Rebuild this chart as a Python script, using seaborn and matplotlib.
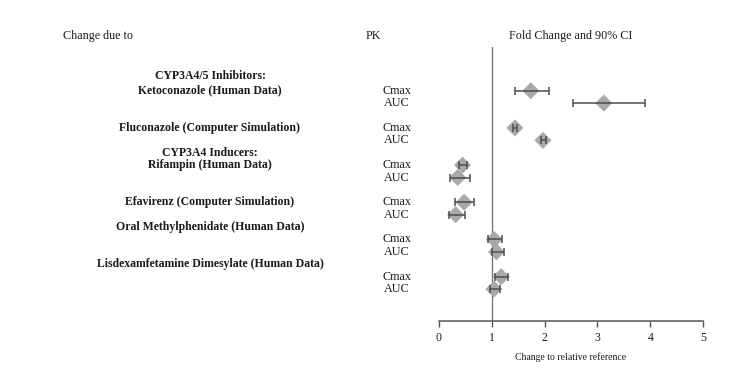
import matplotlib
matplotlib.use("Agg")
import matplotlib.pyplot as plt
import matplotlib.transforms as mtransforms
import seaborn as sns
import pandas as pd
import numpy as np

# ---- data ----
drugs = ["Ketoconazole (Human Data)", "Fluconazole (Computer Simulation)",
         "Rifampin (Human Data)", "Efavirenz (Computer Simulation)",
         "Oral Methylphenidate (Human Data)", "Lisdexamfetamine Dimesylate (Human Data)"]
pk_params = ["Cmax", "AUC"]
fold_cmax = [1.74, 1.44, 0.45, 0.48, 1.05, 1.18]
lo_cmax = [1.44, 1.40, 0.38, 0.31, 0.94, 1.06]
hi_cmax = [2.09, 1.48, 0.535, 0.67, 1.19, 1.315]
fold_auc = [3.12, 1.97, 0.36, 0.32, 1.09, 1.045]
lo_auc = [2.53, 1.93, 0.22, 0.195, 1.00, 0.96]
hi_auc = [3.89, 2.02, 0.585, 0.50, 1.23, 1.16]
headers = ["CYP3A4/5 Inhibitors:", "CYP3A4 Inducers:"]
x_ticks = [0, 1, 2, 3, 4, 5]

rows = []
for i, d in enumerate(drugs):
    rows.append(dict(drug=d, pk="Cmax", fold=fold_cmax[i], lo=lo_cmax[i], hi=hi_cmax[i], pos=3 * i))
    rows.append(dict(drug=d, pk="AUC", fold=fold_auc[i], lo=lo_auc[i], hi=hi_auc[i], pos=3 * i + 1))
df = pd.DataFrame(rows)

sns.set_theme(style="white")
plt.rcParams["font.family"] = ["Liberation Serif", "DejaVu Serif"]

txt = "#1a1a1a"
fig = plt.figure(figsize=(7.55, 3.71), dpi=100)
ax = fig.add_axes([438.7 / 755, (371 - 320.7) / 371, 264.6 / 755, (320.7 - 46.7) / 371])

ax.axvline(1, color="#7a7a7a", lw=1.0, zorder=1)
sns.scatterplot(data=df, x="fold", y="pos", marker="D", s=75, color="#a9a9a9",
                edgecolor="none", ax=ax, zorder=2, legend=False)
ax.errorbar(df["fold"], df["pos"], xerr=[df["fold"] - df["lo"], df["hi"] - df["fold"]],
            fmt="none", ecolor="#4d4d4d", elinewidth=1.1, capsize=3.2, capthick=1.1, zorder=3)

ax.set_xlim(0, 5)
ax.set_ylim(18.55, -3.55)
ax.set_yticks([])
ax.set_xticks(x_ticks)
ax.set_xticklabels([str(t) for t in x_ticks], fontsize=8.5, color=txt)
ax.tick_params(axis="x", direction="out", length=4, width=1, color="#555555", bottom=True, pad=4)
for s in ["top", "right", "left"]:
    ax.spines[s].set_visible(False)
ax.spines["bottom"].set_color("#555555")
ax.spines["bottom"].set_linewidth(1.1)
ax.set_xlabel("Change to relative reference", fontsize=7, color=txt, labelpad=6)
ax.set_ylabel("")

# left-side labels
tr = mtransforms.blended_transform_factory(fig.transFigure, ax.transData)
lab_x = 210 / 755
pk_x = 397 / 755
for i, r in df.iterrows():
    ax.text(pk_x, r["pos"], r["pk"], transform=tr, ha="center", va="center",
            fontsize=8.7, color=txt, clip_on=False)

drug_pos = [0, 3, 6, 9, 11, 14]
for d, p in zip(drugs, drug_pos):
    ax.text(lab_x, p, d, transform=tr, ha="center", va="center", fontsize=8.5,
            fontweight="bold", color=txt, clip_on=False)
for h, p in zip(headers, [-1.18, 5.0]):
    ax.text(lab_x, p, h, transform=tr, ha="center", va="center", fontsize=8.5,
            fontweight="bold", color=txt, clip_on=False)

ty = (371 - 36) / 371
fig.text(63 / 755, ty, "Change due to", ha="left", va="center", fontsize=8.7, color=txt)
fig.text(373 / 755, ty, "PK", ha="center", va="center", fontsize=8.7, color=txt)
fig.text(571 / 755, ty, "Fold Change and 90% CI", ha="center", va="center", fontsize=8.7, color=txt)

fig.savefig("out.png", dpi=100, facecolor="white")
